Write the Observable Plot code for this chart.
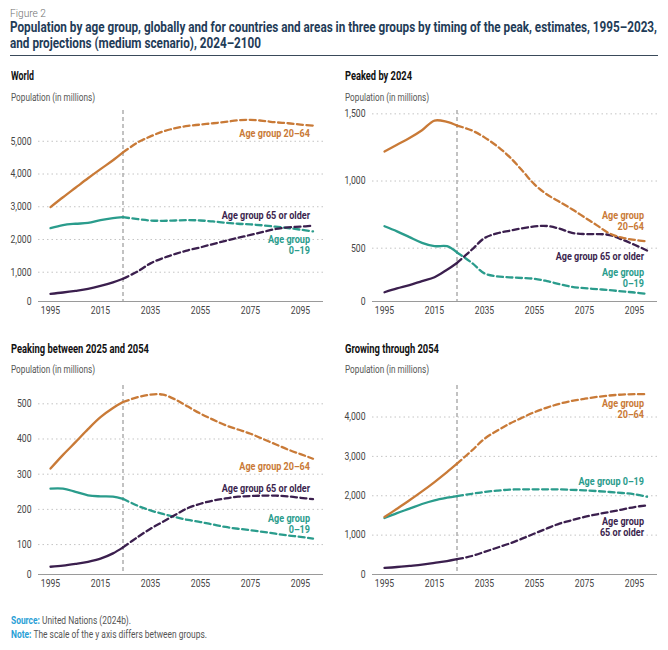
<!DOCTYPE html>
<html>
<head>
<meta charset="utf-8">
<script src="https://cdn.jsdelivr.net/npm/d3@7"></script>
<script src="https://cdn.jsdelivr.net/npm/@observablehq/plot@0.6"></script>
<style>
  html, body { margin: 0; padding: 0; background: #fff; }
  body { width: 668px; height: 650px; position: relative; overflow: hidden; font-family: Roboto, sans-serif; }
  .abs { position: absolute; white-space: nowrap; transform-origin: 0 50%; }
  .fig { left: 10px; top: 7px; font-size: 11px; line-height: 14px; color: #707070; font-weight: 300; }
  .title { left: 10px; font-size: 14.5px; line-height: 16px; font-weight: bold; color: #1f3c58; }
  .rule { left: 10px; top: 55px; width: 648px; height: 1px; background: #3a4a5a; }
  .ptitle { font-size: 12px; line-height: 16px; font-weight: bold; color: #111; }
  .psub { font-size: 10px; line-height: 16px; color: #555; }
  .foot { left: 11px; font-size: 10px; line-height: 14px; color: #555; }
  .foot b { color: #2a9fd6; font-weight: bold; }
  .panel { position: absolute; }
</style>
</head>
<body>
<div class="abs fig" data-w="36">Figure 2</div>
<div class="abs title" id="t1" style="top:20px">Population by age group, globally and for countries and areas in three groups by timing of the peak, estimates, 1995–2023,</div>
<div class="abs title" id="t2" style="top:36px">and projections (medium scenario), 2024–2100</div>
<div class="abs rule"></div>

<div class="abs ptitle" data-w="23" style="left:11px;top:68px">World</div>
<div class="abs psub" data-w="84" style="left:11px;top:90px">Population (in millions)</div>
<div class="abs ptitle" data-w="67" style="left:345px;top:68px">Peaked by 2024</div>
<div class="abs psub" data-w="84" style="left:345px;top:90px">Population (in millions)</div>
<div class="abs ptitle" data-w="138" style="left:11px;top:341px">Peaking between 2025 and 2054</div>
<div class="abs psub" data-w="84" style="left:11px;top:362px">Population (in millions)</div>
<div class="abs ptitle" data-w="94" style="left:345px;top:341px">Growing through 2054</div>
<div class="abs psub" data-w="84" style="left:345px;top:362px">Population (in millions)</div>

<div id="p1" class="panel" style="left:0;top:105px"></div>
<div id="p2" class="panel" style="left:334px;top:105px"></div>
<div id="p3" class="panel" style="left:0;top:380px"></div>
<div id="p4" class="panel" style="left:334px;top:380px"></div>

<div class="abs foot" data-w="120" style="top:614px"><b>Source:</b> United Nations (2024b).</div>
<div class="abs foot" data-w="196" style="top:628px"><b>Note:</b> The scale of the y axis differs between groups.</div>

<script>
// ---- data (millions) ----
const years = [1995, 2000, 2005, 2010, 2015, 2020, 2024, 2030, 2035, 2040, 2045, 2050, 2055, 2060, 2065, 2070, 2075, 2080, 2085, 2090, 2095, 2100];
const splitYear = 2024;
const xTicks = [1995, 2015, 2035, 2055, 2075, 2095];

const worldYoung = [2345, 2440, 2480, 2505, 2590, 2650, 2680, 2620, 2580, 2570, 2580, 2590, 2580, 2550, 2510, 2480, 2460, 2430, 2390, 2350, 2300, 2245];
const worldAdult = [2990, 3290, 3580, 3870, 4150, 4420, 4660, 4970, 5150, 5300, 5400, 5470, 5510, 5550, 5590, 5640, 5655, 5625, 5580, 5550, 5510, 5480];
const worldOld   = [340, 380, 430, 490, 580, 690, 800, 1030, 1270, 1430, 1560, 1670, 1760, 1860, 1960, 2050, 2140, 2230, 2320, 2370, 2390, 2420];
const worldTicks = [1000, 2000, 3000, 4000, 5000];

const peakedYoung = [663, 625, 582, 540, 515, 515, 468, 390, 312, 290, 283, 278, 272, 255, 232, 212, 202, 195, 188, 178, 170, 160];
const peakedAdult = [1220, 1270, 1320, 1378, 1450, 1440, 1413, 1376, 1325, 1260, 1180, 1080, 975, 900, 845, 790, 730, 670, 610, 578, 562, 550];
const peakedOld   = [172, 200, 225, 255, 284, 340, 390, 490, 575, 610, 630, 648, 662, 665, 645, 614, 605, 605, 598, 565, 525, 483];
const peakedTicks = [500, 1000, 1500];

const peakingYoung = [259, 259, 250, 240, 237, 236, 230, 210, 197, 187, 178, 170, 164, 157, 150, 145, 141, 136, 131, 126, 122, 117];
const peakingAdult = [316, 355, 391, 428, 462, 488, 505, 519, 526, 526, 512, 492, 472, 455, 439, 427, 415, 400, 385, 370, 357, 344];
const peakingOld   = [37, 40, 45, 51, 60, 75, 92, 122, 145, 165, 185, 204, 216, 225, 231, 236, 238, 239, 239, 237, 233, 229];
const peakingTicks = [100, 200, 300, 400, 500];

const growingYoung = [1436, 1560, 1673, 1790, 1884, 1950, 1993, 2050, 2095, 2130, 2155, 2162, 2163, 2163, 2163, 2150, 2137, 2118, 2095, 2070, 2040, 1975];
const growingAdult = [1461, 1670, 1884, 2110, 2348, 2600, 2814, 3152, 3448, 3650, 3829, 3980, 4123, 4240, 4336, 4410, 4463, 4510, 4546, 4570, 4580, 4580];
const growingOld   = [168, 190, 219, 250, 294, 340, 388, 470, 574, 680, 786, 910, 1040, 1170, 1293, 1380, 1461, 1530, 1588, 1650, 1714, 1757];
const growingTicks = [1000, 2000, 3000, 4000];

const colors = { adult: "#c97a37", young: "#2a9c8c", old: "#3b1f4e" };

function makePanel(p) {
  const n = years.length;
  const marks = [
    Plot.gridY(p.ticks, { stroke: "#c4c4c4", strokeOpacity: 1, strokeDasharray: "1.5,3" }),
    Plot.ruleX([splitYear], { stroke: "#9a9a9a", strokeDasharray: "4,3", strokeWidth: 1.2 }),
    Plot.ruleY([p.base], { stroke: "#9a9a9a", strokeWidth: 1 }),
    Plot.axisX({ ticks: xTicks, tickSize: 0, tickPadding: 5, label: null, tickFormat: d => String(d), fill: "#444", fontSize: 10.5 }),
    Plot.axisY({ ticks: [p.base, ...p.ticks], tickSize: 0, tickPadding: 7, label: null, fill: "#444", fontSize: 10.5,
                 tickFormat: d => d === p.base ? "0" : d3.format(",")(d) })
  ];
  for (const k of ["young", "old", "adult"]) {
    const rows = p.values[k].map((v, i) => ({ year: years[i], value: v }));
    marks.push(Plot.line(rows.filter(d => d.year <= splitYear),
      { x: "year", y: "value", stroke: colors[k], strokeWidth: 2.3, curve: "catmull-rom" }));
    marks.push(Plot.line(rows.filter(d => d.year >= splitYear),
      { x: "year", y: "value", stroke: colors[k], strokeWidth: 2.3, curve: "catmull-rom", strokeDasharray: "6,3.5" }));
  }
  for (const k of ["adult", "old", "young"]) {
    const lab = p.labels[k];
    marks.push(Plot.text([{ year: years[n - 1], value: p.values[k][n - 1] }], {
      x: "year", y: "value", text: () => lab.text, dx: -3, dy: lab.dy,
      textAnchor: "end", lineAnchor: "middle", lineHeight: 1.0,
      fill: colors[k], fontWeight: "bold", fontSize: 11, ariaLabel: "series-label"
    }));
  }
  return Plot.plot({
    width: 334, height: p.height,
    marginLeft: 38, marginRight: 11, marginTop: 5, marginBottom: 20,
    style: { fontFamily: "Roboto, sans-serif", fontSize: "10.5px", background: "transparent", overflow: "visible" },
    x: { domain: [1990.2, 2104.2], axis: null },
    y: { domain: [p.base, p.top], axis: null },
    marks
  });
}

const panels = [
  ["p1", {
    height: 216, base: 105, top: 5940, ticks: worldTicks,
    values: { young: worldYoung, adult: worldAdult, old: worldOld },
    labels: { adult: { text: "Age group 20–64", dy: 8 },
              old: { text: "Age group 65 or older", dy: -10 },
              young: { text: "Age group\n0–19", dy: 14 } } }],
  ["p2", {
    height: 216, base: 103, top: 1525, ticks: peakedTicks,
    values: { young: peakedYoung, adult: peakedAdult, old: peakedOld },
    labels: { adult: { text: "Age group\n20–64", dy: -20 },
              old: { text: "Age group 65 or older", dy: 6 },
              young: { text: "Age group\n0–19", dy: -16 } } }],
  ["p3", {
    height: 214, base: 15, top: 552, ticks: peakingTicks,
    values: { young: peakingYoung, adult: peakingAdult, old: peakingOld },
    labels: { adult: { text: "Age group 20–64", dy: 8 },
              old: { text: "Age group 65 or older", dy: -11 },
              young: { text: "Age group\n0–19", dy: -15 } } }],
  ["p4", {
    height: 214, base: 0, top: 4800, ticks: growingTicks,
    values: { young: growingYoung, adult: growingAdult, old: growingOld },
    labels: { adult: { text: "Age group\n20–64", dy: 15 },
              old: { text: "Age group\n65 or older", dy: 22 },
              young: { text: "Age group 0–19", dy: -15 } } }]
];
const svgs = panels.map(([id, cfg]) => {
  const svg = makePanel(cfg);
  document.getElementById(id).append(svg);
  return svg;
});

// condensed look: horizontally compress texts (anchor-preserving); re-run once fonts are ready
function labelTexts(svg) {
  const out = new Set();
  svg.querySelectorAll('[aria-label="series-label"]').forEach(el => {
    if (el.tagName.toLowerCase() === "text") out.add(el);
    else el.querySelectorAll("text").forEach(t => out.add(t));
  });
  return [...out];
}
function condense(texts, k) {
  texts.forEach(t => {
    if (t.dataset.baseTransform === undefined) t.dataset.baseTransform = t.getAttribute("transform") || "";
    t.setAttribute("transform", t.dataset.baseTransform + ` scale(${k},1)`);
  });
}
function applyFit() {
  svgs.forEach(svg => svg.querySelectorAll("text").forEach(t => {
    if (t.dataset.baseTransform !== undefined) t.setAttribute("transform", t.dataset.baseTransform);
  }));
  const lab0 = labelTexts(svgs[0]);
  const refLabel = lab0.find(t => t.textContent === "Age group 65 or older");
  const kLabel = refLabel ? 75 / refLabel.getBBox().width : 0.74;
  const refTick = [...svgs[0].querySelectorAll("text")].find(t => t.textContent === "1995");
  const kTick = refTick ? 19.5 / refTick.getBBox().width : 0.85;
  svgs.forEach(svg => {
    const labs = labelTexts(svg);
    condense(labs, kLabel);
    condense([...svg.querySelectorAll("text")].filter(t => !labs.includes(t)), kTick);
  });
  document.querySelectorAll("[data-w]").forEach(el => {
    el.style.transform = "none";
    const w = el.getBoundingClientRect().width;
    el.style.transform = `scaleX(${(+el.dataset.w) / w})`;
  });
  const t1 = document.getElementById("t1"), t2 = document.getElementById("t2");
  t1.style.transform = t2.style.transform = "none";
  const kt = 647 / t1.getBoundingClientRect().width;
  t1.style.transform = t2.style.transform = `scaleX(${kt})`;
}
applyFit();
if (document.fonts && document.fonts.ready) document.fonts.ready.then(applyFit);
</script>
</body>
</html>
